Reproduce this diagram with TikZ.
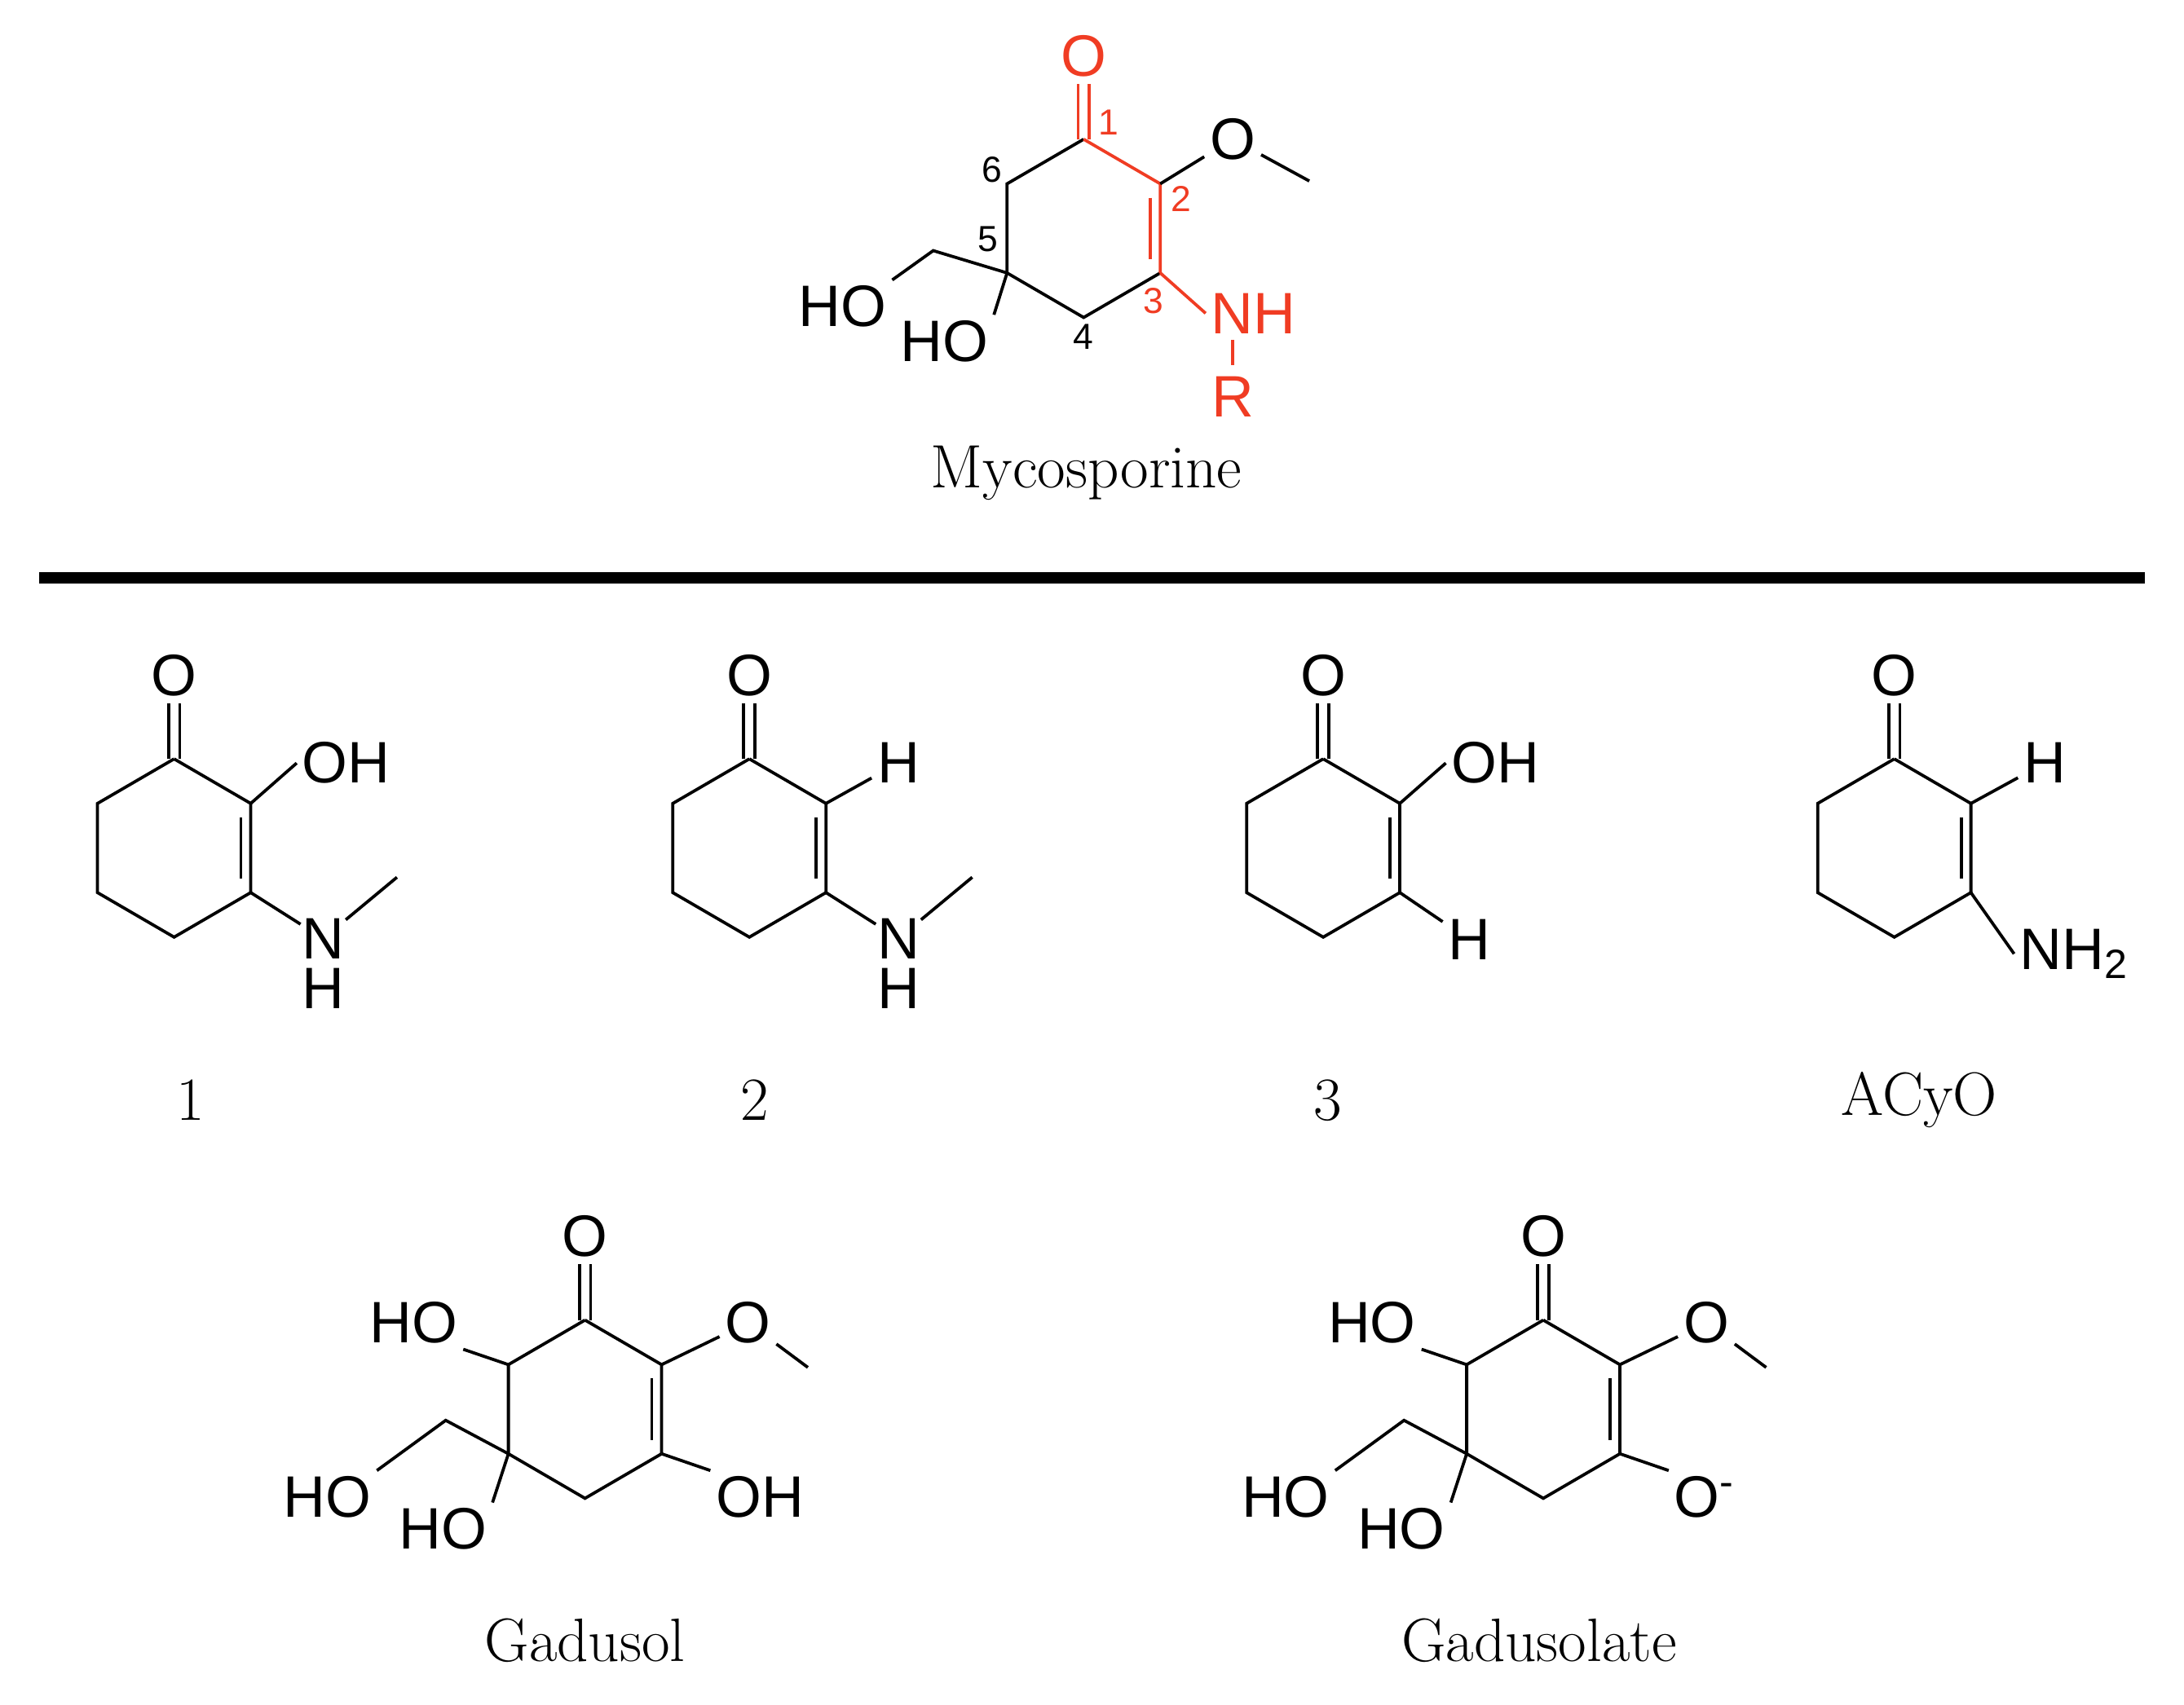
\documentclass[tikz,border=0pt]{standalone}
\usepackage{fontspec}
\newfontfamily\atomfont{Liberation Sans}
\definecolor{myred}{RGB}{240,60,35}
\begin{document}
\begin{tikzpicture}[x=0.5pt,y=-0.5pt,line width=1.1pt,
  atom/.style={font=\atomfont\fontsize{21}{21}\selectfont,inner sep=1.5pt},
  num/.style={font=\atomfont\fontsize{13}{13}\selectfont,inner sep=0pt},
  captext/.style={font=\fontsize{22}{24}\selectfont,inner sep=0pt},
  bond/.style={line width=1.1pt},
  pics/enone/.style={code={
    \coordinate (-c1) at (0,0);
    \coordinate (-c2) at (55,32);
    \coordinate (-c3) at (55,96);
    \coordinate (-c4) at (0,128);
    \coordinate (-c5) at (-55,96);
    \coordinate (-c6) at (-55,32);
    \node[atom,#1] (-O) at (0,-60) {O};
    \draw[bond] (-c3) -- (-c4) -- (-c5) -- (-c6) -- (-c1);
    \draw[bond,#1] (-c1) -- (-c2) -- (-c3);
    \draw[bond,#1] (48,42) -- (48,86);
    \draw[bond,#1] (-4,0) -- (-4,-40) (4,0) -- (4,-40);
  }}]
\useasboundingbox (0,0) rectangle (1568,1224);
\fill[white] (0,0) rectangle (1568,1224);

% Mycosporine
\pic (my) at (778,100) {enone=myred};
\node[atom] (myOM) at (885,100) {O};
\coordinate (myMe) at (940,130);
\draw[bond] (my-c2) -- (myOM) -- (myMe);
\node[atom,myred] (myN) at (900,225) {NH};
\node[atom,myred] (myR) at (885,285) {R};
\draw[bond,myred] (my-c3) -- (myN.west);
\draw[bond,myred] (885,244) -- (885,262);
\coordinate (myCH2) at (670,180);
\node[atom] (myHO1) at (605,220) {HO};
\node[atom] (myHO2) at (678,245) {HO};
\draw[bond] (my-c5) -- (myCH2) -- (myHO1.north east);
\draw[bond] (my-c5) -- (myHO2.north east);
\node[num] at (712,122) {6};
\node[num] at (709,172) {5};
\node[num] at (778,242) {4};
\node[num,myred] at (828,216) {3};
\node[num,myred] at (848,143) {2};
\node[num,myred] at (796,88) {1};
\node[captext] (capMy) at (780,340) {Mycosporine};

\draw[line width=4pt] (28,415) -- (1540,415);

% 1
\pic (a) at (125,545) {enone=black};
\node[atom,anchor=west] (aOH) at (213,548) {OH};
\draw[bond] (a-c2) -- (aOH.west);
\node[atom,inner sep=0pt] (aN) at (232,674) {N};
\node[atom,inner sep=0pt] (aH) at (232,710) {H};
\coordinate (aMe) at (285,630);
\draw[bond] (a-c3) -- (aN) -- (aMe);
\node[captext] at (137,790) {1};

% 2
\pic (b) at (538,545) {enone=black};
\node[atom] (bH1) at (645,548) {H};
\draw[bond] (b-c2) -- (bH1);
\node[atom,inner sep=0pt] (bN) at (645,674) {N};
\node[atom,inner sep=0pt] (bH) at (645,710) {H};
\coordinate (bMe) at (698,630);
\draw[bond] (b-c3) -- (bN) -- (bMe);
\node[captext] at (542,790) {2};

% 3
\pic (c) at (950,545) {enone=black};
\node[atom,anchor=west] (cOH) at (1038,548) {OH};
\draw[bond] (c-c2) -- (cOH.west);
\node[atom] (cH) at (1055,675) {H};
\draw[bond] (c-c3) -- (cH);
\node[captext] at (953,790) {3};

% ACyO
\pic (d) at (1360,545) {enone=black};
\node[atom] (dH) at (1468,548) {H};
\draw[bond] (d-c2) -- (dH);
\node[atom,anchor=west] (dN) at (1446,685) {NH\textsubscript{2}};
\draw[bond] (d-c3) -- (dN.west);
\node[captext] at (1378,790) {ACyO};

% Gadusol
\pic (g) at (420,948) {enone=black};
\node[atom] (gHOt) at (297,950) {HO};
\draw[bond] (g-c6) -- (gHOt.south east);
\node[atom] (gOM) at (537,950) {O};
\coordinate (gMe) at (580,982);
\draw[bond] (g-c2) -- (gOM) -- (gMe);
\node[atom,anchor=west] (gOH) at (510,1075) {OH};
\draw[bond] (g-c3) -- (gOH.north west);
\coordinate (gCH2) at (320,1020);
\node[atom] (gHO1) at (235,1075) {HO};
\node[atom] (gHO2) at (318,1098) {HO};
\draw[bond] (g-c5) -- (gCH2) -- (gHO1.north east);
\draw[bond] (g-c5) -- (gHO2.north east);
\node[captext] at (420,1178) {Gadusol};

% Gadusolate
\pic (h) at (1108,948) {enone=black};
\node[atom] (hHOt) at (985,950) {HO};
\draw[bond] (h-c6) -- (hHOt.south east);
\node[atom] (hOM) at (1225,950) {O};
\coordinate (hMe) at (1268,982);
\draw[bond] (h-c2) -- (hOM) -- (hMe);
\node[atom,anchor=west] (hO) at (1198,1075) {O\textsuperscript{-}};
\draw[bond] (h-c3) -- (hO.north west);
\coordinate (hCH2) at (1008,1020);
\node[atom] (hHO1) at (923,1075) {HO};
\node[atom] (hHO2) at (1006,1098) {HO};
\draw[bond] (h-c5) -- (hCH2) -- (hHO1.north east);
\draw[bond] (h-c5) -- (hHO2.north east);
\node[captext] at (1105,1178) {Gadusolate};
\end{tikzpicture}
\end{document}
